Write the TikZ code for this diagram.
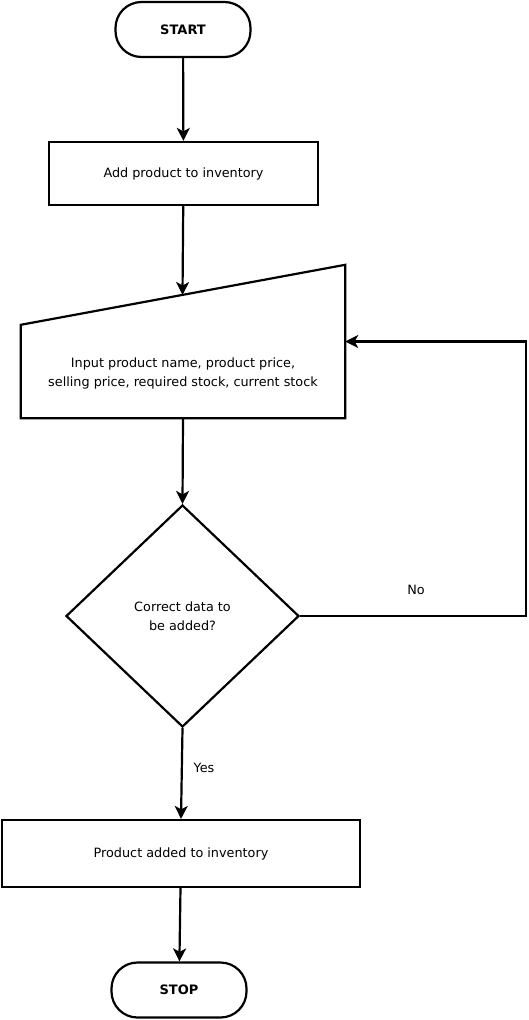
\documentclass[tikz,border=0pt]{standalone}
\usepackage{fontspec}
\setmainfont{DejaVu Sans}
\usetikzlibrary{arrows.meta, shapes.geometric}

\begin{document}
\begin{tikzpicture}[
  x=1pt, y=-1pt,
  font=\fontsize{12.8}{19}\selectfont,
  term/.style={rectangle, rounded corners=26pt, draw, line width=2.2pt,
               minimum width=135pt, minimum height=55pt, inner sep=0pt,
               font=\fontsize{13}{15}\selectfont\bfseries},
  proc/.style={rectangle, draw, line width=2.2pt, inner sep=0pt},
  inbox/.style={rectangle, minimum width=324pt, minimum height=153pt,
                inner sep=0pt},
  dec/.style={diamond, draw, line width=2.2pt, minimum width=233pt,
              minimum height=222pt, inner sep=0pt, align=center},
  lbl/.style={inner sep=1pt},
  lk/.style={line width=2.2pt, -{Stealth[length=13pt, width=13pt, inset=3.5pt]}}
]
  \useasboundingbox (0,0) rectangle (528,1020);

  \node[term] (start) at (183,29.5) {START};
  \node[proc, minimum width=269pt, minimum height=63pt] (add) at (183.5,173.5)
    {Add product to inventory};

  % manual input
  \node[inbox] (inp) at (183,341.5) {};
  \draw[line width=2.2pt, line join=miter] (inp.south west) -- (inp.south east)
    -- (inp.north east) -- ([yshift=-60pt]inp.north west) -- cycle;
  \node[align=center] (inptxt) at (183,373)
    {Input product name, product price,\\selling price, required stock, current stock};
  \coordinate (inptop) at (182.5,295);

  \node[dec] (chk) at (182.5,616) {Correct data to\\ be added?};
  \node[proc, minimum width=358pt, minimum height=67pt] (done) at (181,853.5)
    {Product added to inventory};
  \node[term] (stop) at (179,990) {STOP};

  \coordinate (corner1) at (526,616);
  \coordinate (corner2) at (526,341.5);

  \draw[lk] (start) -- (add);
  \draw[lk] (add) -- (inptop);
  \draw[lk] (inp.south) -- (chk.north);
  \draw[lk] (chk.south) -- (done.north);
  \draw[lk] (done) -- (stop);
  \draw[lk] (chk.east) -- (corner1) -- (corner2) -- (inp.east);

  \node[lbl] (no) at (416,590) {No};
  \node[lbl] (yes) at (204,768) {Yes};
\end{tikzpicture}
\end{document}
